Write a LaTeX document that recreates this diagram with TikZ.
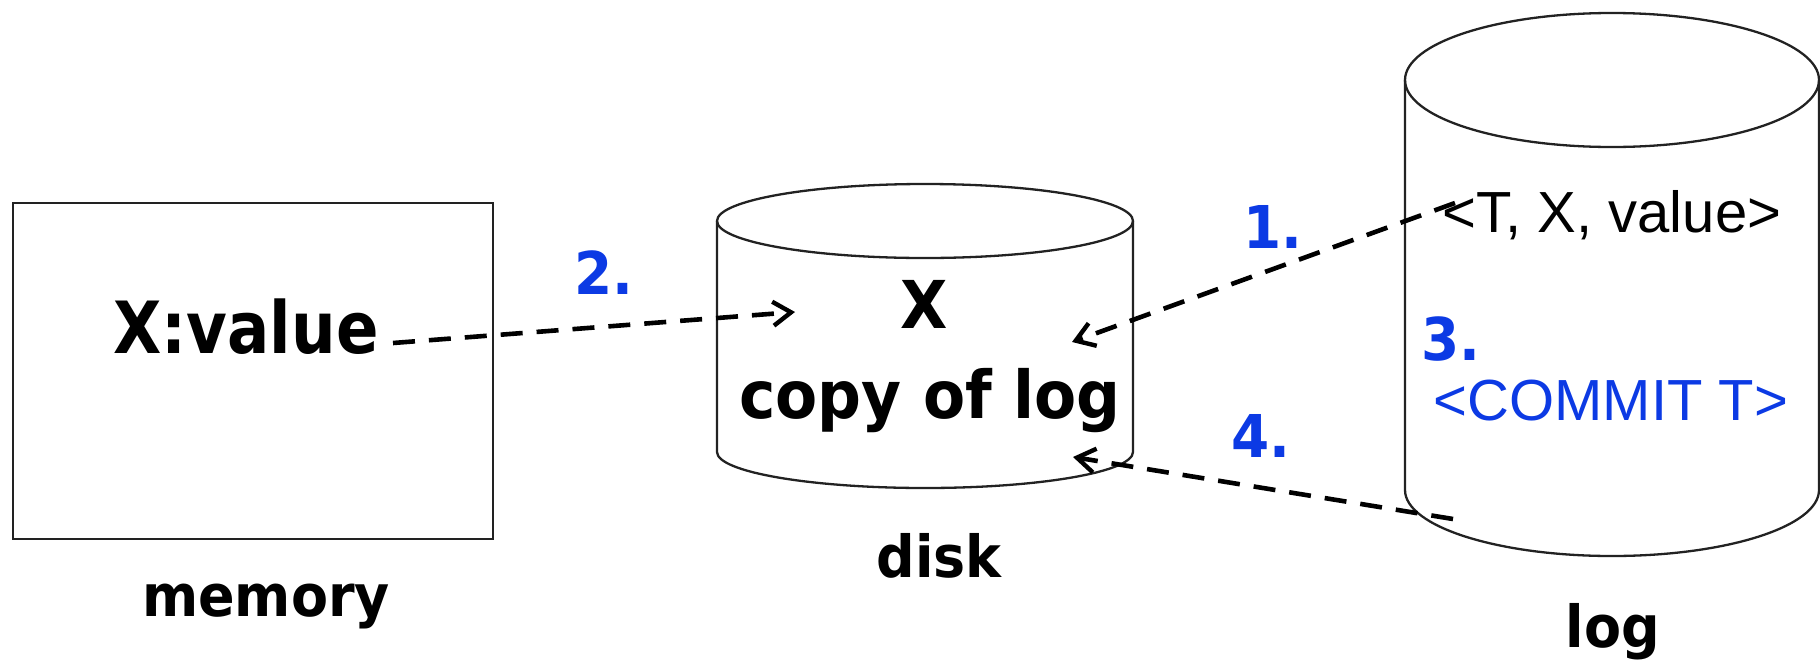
\documentclass[tikz,border=0pt]{standalone}
\usepackage{fontspec}
\usepackage{graphicx}
\setmainfont{Liberation Sans}
\newfontfamily\dejav{DejaVu Sans}
\usetikzlibrary{arrows.meta}
\definecolor{stepblue}{RGB}{12,58,228}
\definecolor{outline}{RGB}{34,34,34}
\tikzset{
  shapeline/.style={draw=outline, line width=1.15pt},
  flow/.style={line width=2.3pt, dash pattern=on 11pt off 7pt,
    -{Straight Barb[length=9pt,width=12pt,line width=2.2pt]}},
  txt/.style={inner sep=0pt, anchor=base},
}
\newcommand{\bigbold}[3]{\scalebox{#2}[1]{\dejav\bfseries\fontsize{#1}{#1}\selectfont #3}}
\begin{document}
\begin{tikzpicture}[x=0.5pt,y=0.5pt]
\useasboundingbox (0,0) rectangle (1820,-659);
% memory box
\node[shapeline, rectangle, minimum width=240pt, minimum height=168pt, inner sep=0pt] (mem) at (253,-371) {};
% disk cylinder
\draw[shapeline] (717,-221) -- (717,-452) arc[start angle=180, end angle=360, x radius=208, y radius=36] -- (1133,-221);
\draw[shapeline] (925,-221) ellipse [x radius=208, y radius=37];
% log cylinder
\draw[shapeline] (1405,-80) -- (1405,-490) arc[start angle=180, end angle=360, x radius=207, y radius=66] -- (1819,-80);
\draw[shapeline] (1612,-80) ellipse [x radius=207, y radius=67];
% texts
\node[txt] (xval) at (246,-353) {\bigbold{36}{0.87}{X:value}};
\node[txt] (dX) at (924,-328) {\bigbold{33}{0.93}{X}};
\node[txt] (dcopy) at (930,-418) {\bigbold{33}{0.93}{copy of log}};
\node[txt] (memlbl) at (266,-616) {\bigbold{29}{0.93}{memory}};
\node[txt] (disklbl) at (939,-577) {\bigbold{29}{0.93}{disk}};
\node[txt] (loglbl) at (1613,-647) {\bigbold{29}{0.93}{log}};
\node[txt, text=stepblue] (n1) at (1273,-248) {\bigbold{29.5}{0.93}{1.}};
\node[txt, text=stepblue] (n2) at (604,-294) {\bigbold{29.5}{0.93}{2.}};
\node[txt, text=stepblue] (n3) at (1451,-360) {\bigbold{29.5}{0.93}{3.}};
\node[txt, text=stepblue] (n4) at (1261,-457) {\bigbold{29.5}{0.93}{4.}};
\node[txt] (rec) at (1612,-232) {\fontsize{29}{29}\selectfont <T, X, value>};
\node[txt, text=stepblue] (commit) at (1611,-420) {\fontsize{29}{29}\selectfont <COMMIT T>};
% connector end points
\coordinate (a2s) at (393,-343);
\coordinate (a2e) at (795,-312);
\coordinate (a1s) at (1455,-203);
\coordinate (a1e) at (1072,-342);
\coordinate (a4s) at (1453,-519);
\coordinate (a4e) at (1073,-457);
\draw[flow] (a2s) -- (a2e);
\draw[flow] (a1s) -- (a1e);
\draw[flow] (a4s) -- (a4e);
\end{tikzpicture}
\end{document}
